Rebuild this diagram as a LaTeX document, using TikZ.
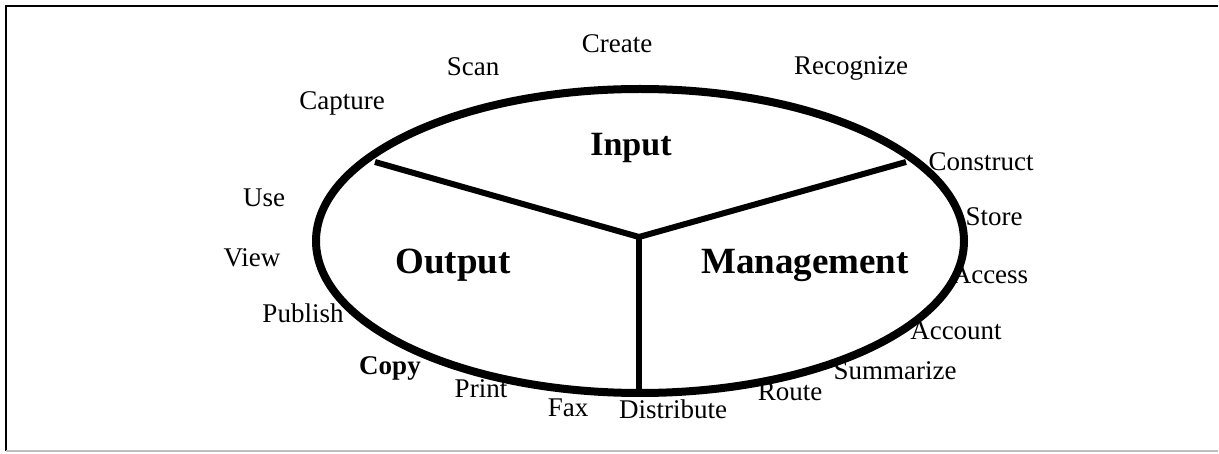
\documentclass[tikz,border=0pt]{standalone}
\usepackage{fontspec}
\setmainfont{Liberation Serif}
\begin{document}
\begin{tikzpicture}[x=1pt,y=-1pt,
  lbl/.style={inner sep=0pt, font=\fontsize{27}{31}\selectfont},
  blbl/.style={inner sep=0pt, font=\fontsize{27}{31}\selectfont\bfseries},
  sect/.style={inner sep=0pt, font=\fontsize{37}{42}\selectfont\bfseries},
  ring/.style={line width=8pt},
  spoke/.style={line width=6pt}]
\useasboundingbox (0,0) rectangle (1219,454);
% frame
\draw[line width=2pt] (6,451) -- (6,6) -- (1218,6);
\draw[line width=1.5pt, black!25] (6,451) -- (1218,451);
% labels
\node[lbl] (create) at (617,44) {Create};
\node[lbl] (scan) at (473,67) {Scan};
\node[lbl] (recog) at (851,68) {Recognize};
\node[lbl] (capture) at (342,103) {Capture};
\node[lbl] (construct) at (981,162) {Construct};
\node[lbl] (use) at (264,198) {Use};
\node[lbl] (store) at (994,217) {Store};
\node[lbl] (view) at (252,258) {View};
\node[lbl] (access) at (990,275) {Access};
\node[lbl] (publish) at (303,313) {Publish};
\node[lbl] (account) at (956,331) {Account};
\node[blbl] (copy) at (390,368) {Copy};
\node[lbl] (summ) at (895,371) {Summarize};
\node[lbl] (print) at (481,389) {Print};
\node[lbl] (route) at (790,392) {Route};
\node[lbl] (fax) at (568,408) {Fax};
\node[lbl] (distr) at (673,409) {Distribute};
% sections
\node[sect, font=\fontsize{34}{40}\selectfont\bfseries] (input) at (631,148) {Input};
\node[sect] (output) at (453,265) {Output};
\node[sect] (mgmt) at (805,265) {Management};
% ring and spokes
\draw[ring] (640,241) ellipse [x radius=324, y radius=152];
\coordinate (hub) at (639,237);
\coordinate (endL) at (375,162);
\coordinate (endR) at (906,162);
\coordinate (endB) at (639,393);
\draw[spoke] (endL) -- (hub) -- (endR);
\draw[spoke] (hub) -- (endB);
\end{tikzpicture}
\end{document}
